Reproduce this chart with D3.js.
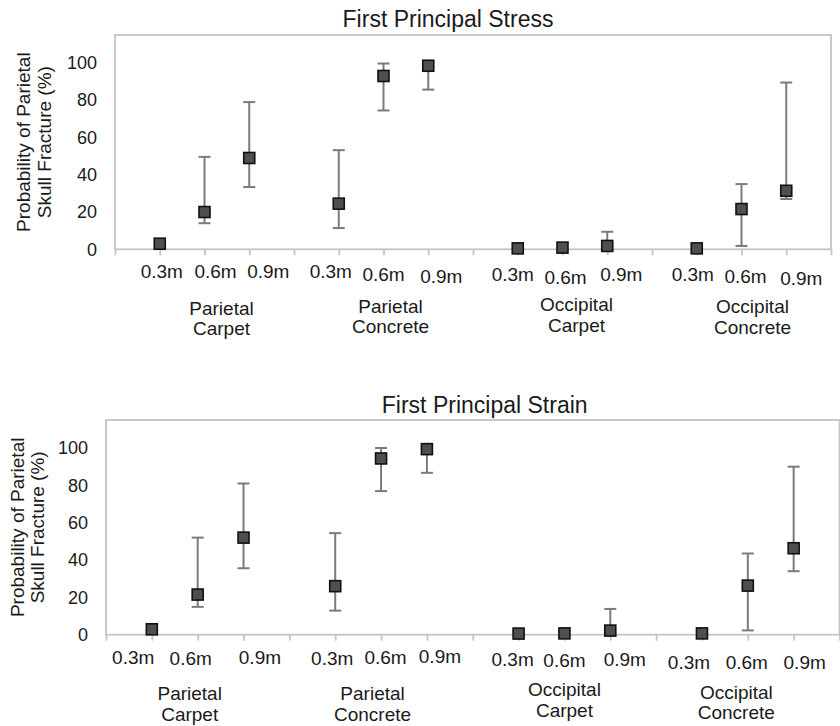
<!DOCTYPE html>
<html>
<head>
<meta charset="utf-8">
<script src="https://cdn.jsdelivr.net/npm/d3@7"></script>
<style>
  body { margin: 0; background: #fff; }
  text { font-family: "Liberation Sans", Arial, sans-serif; fill: #1a1a1a; }
</style>
</head>
<body>
<div id="chart-area"></div>
<script>
// category labels
const distances = ["0.3m", "0.6m", "0.9m"];
const groups = [["Parietal", "Carpet"], ["Parietal", "Concrete"], ["Occipital", "Carpet"], ["Occipital", "Concrete"]];
const yTicks = [0, 20, 40, 60, 80, 100];

// probability of fracture (%), 12 points = 4 groups x 3 heights
const stressMean = [3, 20, 49, 24.5, 93, 98.5, 0.5, 0.9, 1.8, 0.5, 21.6, 31.4];
const stressLow  = [3, 14, 33.4, 11.4, 74.5, 85.7, 0.5, 0.9, 0, 0.5, 1.8, 27];
const stressHigh = [3, 49.6, 79, 53.2, 99.7, 100, 0.5, 0.9, 9.4, 0.5, 35, 89.5];

const strainMean = [2.9, 21.5, 52, 26, 94.4, 99.4, 0.6, 0.7, 2.2, 0.7, 26.3, 46.3];
const strainLow  = [2.9, 14.9, 35.6, 12.9, 76.9, 86.7, 0.6, 0.7, 0, 0.7, 2.3, 34];
const strainHigh = [2.9, 52, 81, 54.4, 100, 100, 0.6, 0.7, 13.8, 0.7, 43.5, 90];

var svg = d3.select("#chart-area")
    .append("svg")
        .attr("width", 840)
        .attr("height", 726);

// layout of each panel (the labels were hand placed text boxes, hence the nudges)
var panels = [
    {
        title: "First Principal Stress", mean: stressMean, low: stressLow, high: stressHigh,
        left: 115, right: 831, top: 35, bottom: 249.3,
        titleX: 448, titleY: 26.7, yLab: [85, 64.5],
        tickDx: [2, 11, 19, -8, 0, 13, -5, 3, 14, -4, 4, 15],
        tickDy: [28.2, 28.2, 28.2, 28.2, 31.2, 33.2, 31.2, 34.2, 31.2, 31.2, 33.2, 35.2],
        groupDx: [17, 7, 14, 11],
        groupDy: [65.2, 63.5, 61.7, 63.7]
    },
    {
        title: "First Principal Strain", mean: strainMean, low: strainLow, high: strainHigh,
        left: 106, right: 839.5, top: 420, bottom: 634.7,
        titleX: 484.7, titleY: 413, yLab: [82, 62],
        tickDx: [-18.6, -7, 16.4, -3, 4.5, 13, -6, 0, 14.5, -13, -1, 11],
        tickDy: [29.3, 29.8, 29.3, 29.8, 29.3, 27.8, 31.5, 31.8, 31.5, 33.8, 33.8, 33.8],
        groupDx: [-8, -8.5, 0, -11.5],
        groupDy: [65.3, 65.3, 61.3, 64]
    }
];

panels.forEach(drawPanel);

function drawPanel(p) {
    var width = p.right - p.left,
        height = p.bottom - p.top;

    var g = svg.append("g")
        .attr("transform", "translate(" + p.left + ", " + p.top + ")");

    // 4 groups, each split in 4 slots, points on slots 1..3
    var x = d3.scaleLinear().domain([0, 16]).range([0, width]);
    var y = d3.scaleLinear().domain([0, 115]).range([height, 0]);

    var pts = p.mean.map(function(m, i) {
        return {
            pos: Math.floor(i / 3) * 4 + (i % 3) + 1,
            mean: m, low: p.low[i], high: p.high[i],
            label: distances[i % 3], i: i
        };
    });

    // frame
    g.append("rect")
        .attr("width", width)
        .attr("height", height)
        .attr("fill", "none")
        .attr("stroke", "#c4c4c4")
        .attr("stroke-width", 1.8);

    // x ticks hanging under the baseline
    var xAxisCall = d3.axisBottom(x)
        .tickValues(d3.range(17))
        .tickSize(6)
        .tickFormat("");
    var xAxis = g.append("g")
        .attr("transform", "translate(0, " + height + ")")
        .call(xAxisCall);
    xAxis.select(".domain").remove();
    xAxis.selectAll("line").attr("stroke", "#c4c4c4").attr("stroke-width", 1.8);

    var yAxisCall = d3.axisLeft(y)
        .tickValues(yTicks)
        .tickSize(0)
        .tickPadding(18);
    var yAxis = g.append("g").call(yAxisCall);
    yAxis.select(".domain").remove();
    yAxis.selectAll("text")
        .attr("font-size", "18px")
        .attr("font-family", null)
        .attr("fill", "#1a1a1a");

    // distance labels
    g.selectAll(".dist").data(pts).enter()
        .append("text")
        .attr("class", "dist")
        .attr("x", function(d) { return x(d.pos) + p.tickDx[d.i]; })
        .attr("y", function(d) { return height + p.tickDy[d.i]; })
        .attr("text-anchor", "middle")
        .attr("font-size", "19px")
        .text(function(d) { return d.label; });

    // group labels, two lines each
    groups.forEach(function(lines, gi) {
        var t = g.append("text")
            .attr("text-anchor", "middle")
            .attr("font-size", "19px")
            .attr("transform", "translate(" + (x(gi * 4 + 2) + p.groupDx[gi]) + ", " + (height + p.groupDy[gi]) + ")");
        lines.forEach(function(line, li) {
            t.append("tspan").attr("x", 0).attr("y", li * 20.7).text(line);
        });
    });

    // y axis title
    var yl = g.append("text")
        .attr("text-anchor", "middle")
        .attr("font-size", "19px")
        .attr("transform", "rotate(-90)");
    ["Probability of Parietal", "Skull Fracture (%)"].forEach(function(line, li) {
        yl.append("tspan")
            .attr("x", -height / 2)
            .attr("y", -p.yLab[li])
            .text(line);
    });

    // title
    svg.append("text")
        .attr("x", p.titleX)
        .attr("y", p.titleY)
        .attr("text-anchor", "middle")
        .attr("font-size", "23px")
        .text(p.title);

    // error bars
    var bars = pts.filter(function(d) { return d.high > d.low; });
    var eb = g.selectAll(".err").data(bars).enter().append("g")
        .attr("class", "err")
        .attr("stroke", "#7b7b7b")
        .attr("stroke-width", 2);
    eb.append("line")
        .attr("x1", function(d) { return x(d.pos); })
        .attr("x2", function(d) { return x(d.pos); })
        .attr("y1", function(d) { return y(d.low); })
        .attr("y2", function(d) { return y(d.high); });
    ["low", "high"].forEach(function(k) {
        eb.append("line")
            .attr("x1", function(d) { return x(d.pos) - 6; })
            .attr("x2", function(d) { return x(d.pos) + 6; })
            .attr("y1", function(d) { return y(d[k]); })
            .attr("y2", function(d) { return y(d[k]); });
    });

    // square markers
    g.selectAll(".pt").data(pts).enter()
        .append("rect")
        .attr("class", "pt")
        .attr("x", function(d) { return x(d.pos) - 5.5; })
        .attr("y", function(d) { return y(d.mean) - 5.5; })
        .attr("width", 11)
        .attr("height", 11)
        .attr("fill", "#4f4f4f")
        .attr("stroke", "#111")
        .attr("stroke-width", 1.6);
}
</script>
</body>
</html>
